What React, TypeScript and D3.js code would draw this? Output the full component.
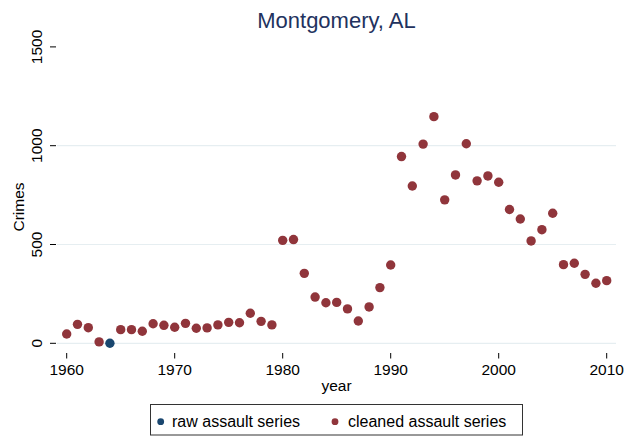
import * as d3 from 'd3';

// Montgomery, AL assault series
const years = [
  1960, 1961, 1962, 1963, 1965, 1966, 1967, 1968, 1969, 1970, 1971, 1972, 1973, 1974, 1975,
  1976, 1977, 1978, 1979, 1980, 1981, 1982, 1983, 1984, 1985, 1986, 1987, 1988, 1989, 1990,
  1991, 1992, 1993, 1994, 1995, 1996, 1997, 1998, 1999, 2000, 2001, 2002, 2003, 2004, 2005,
  2006, 2007, 2008, 2009, 2010,
];
const cleaned = [
  47, 96, 79, 7, 69, 69, 61, 99, 91, 81, 101, 76, 78, 93, 106,
  104, 152, 111, 93, 521, 525, 354, 234, 205, 207, 174, 113, 184, 282, 396,
  945, 796, 1008, 1147, 726, 852, 1010, 822, 847, 815, 677, 629, 518, 575, 658,
  398, 405, 349, 304, 317,
];
const rawYears = [1964];
const rawValues = [0];

const xTicks = [1960, 1970, 1980, 1990, 2000, 2010];
const yTicks = [0, 500, 1000, 1500];
const gridTicks = [0, 500, 1000];

const FONT = '"Liberation Sans", Arial, Helvetica, sans-serif';
const RED = '#90353b';
const BLUE = '#1a476f';

export default function App() {
  const W = 637;
  const H = 437;
  const plot = { left: 57, right: 616 };

  const x = d3.scaleLinear().domain([1960, 2010]).range([66.7, 606.7]);
  const y = d3.scaleLinear().domain([0, 1500]).range([343.3, 46.9]);

  const cleanedData = years.map((yr, i) => ({ yr, v: cleaned[i] }));
  const rawData = rawYears.map((yr, i) => ({ yr, v: rawValues[i] }));

  return (
    <svg
      width={W}
      height={H}
      style={{ position: 'absolute', left: 0, top: 0, background: '#fff', fontFamily: FONT }}
    >
      {/* title */}
      <text x={(plot.left + plot.right) / 2} y={28.3} textAnchor="middle" fontSize={22} fill="#22325e">
        Montgomery, AL
      </text>

      {/* gridlines */}
      {gridTicks.map((t) => (
        <line key={'g' + t} x1={plot.left} x2={plot.right} y1={y(t)} y2={y(t)} stroke="#e6eef1" strokeWidth={1.2} />
      ))}

      {/* y axis */}
      {yTicks.map((t) => (
        <g key={'y' + t}>
          <line x1={50} x2={56} y1={y(t)} y2={y(t)} stroke="#000" strokeWidth={1} />
          <text
            transform={`translate(41.5,${y(t)}) rotate(-90)`}
            textAnchor="middle"
            fontSize={15.5}
            fill="#000"
          >
            {t}
          </text>
        </g>
      ))}
      <text transform="translate(24,207) rotate(-90)" textAnchor="middle" fontSize={15.5} fill="#000">
        Crimes
      </text>

      {/* x axis */}
      {xTicks.map((t) => (
        <g key={'x' + t}>
          <line x1={x(t)} x2={x(t)} y1={353} y2={358.5} stroke="#000" strokeWidth={1} />
          <text x={x(t)} y={374.5} textAnchor="middle" fontSize={15.5} fill="#000">
            {t}
          </text>
        </g>
      ))}
      <text x={(plot.left + plot.right) / 2} y={390.5} textAnchor="middle" fontSize={15.5} fill="#000">
        year
      </text>

      {/* points */}
      {rawData.map((d) => (
        <circle key={'r' + d.yr} cx={x(d.yr)} cy={y(d.v)} r={4.7} fill={BLUE} />
      ))}
      {cleanedData.map((d) => (
        <circle key={'c' + d.yr} cx={x(d.yr)} cy={y(d.v)} r={4.7} fill={RED} />
      ))}

      {/* legend */}
      <rect x={150.5} y={404.5} width={372} height={30.5} fill="#fff" stroke="#333" strokeWidth={1} />
      <circle cx={160.7} cy={421.7} r={3.4} fill={BLUE} />
      <text x={172} y={427} fontSize={16} fill="#000">
        raw assault series
      </text>
      <circle cx={335} cy={421.7} r={3.4} fill={RED} />
      <text x={348} y={427} fontSize={16} fill="#000">
        cleaned assault series
      </text>
    </svg>
  );
}
